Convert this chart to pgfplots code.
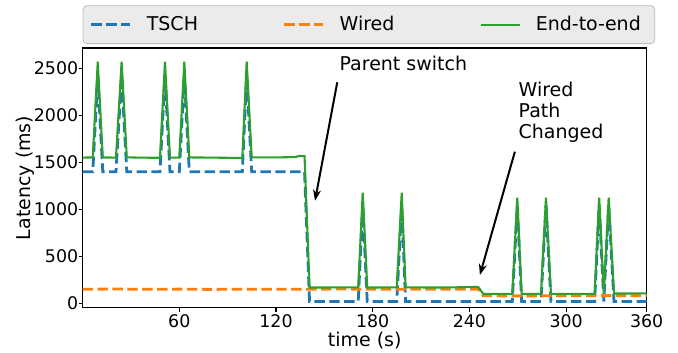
\documentclass[border=0pt]{standalone}
\usepackage{pgfplots}
\pgfplotsset{compat=1.18}
\usepackage{fontspec}
\setmainfont{DejaVu Sans}
\usetikzlibrary{arrows.meta}
\definecolor{tblue}{HTML}{1F77B4}
\definecolor{torange}{HTML}{FF7F0E}
\definecolor{tgreen}{HTML}{2CA02C}
\definecolor{legfill}{HTML}{EBEBEB}
\definecolor{legdraw}{HTML}{BDBDBD}
\newcommand{\lfont}{\fontsize{9.5}{11.4}\selectfont}
\begin{document}
\begin{tikzpicture}
\begin{axis}[
  name=ax,
  scale only axis,
  width=282pt, height=129.85pt,
  xmin=0, xmax=350, ymin=-47, ymax=2716,
  xtick={60,120,180,240,300,350},
  xticklabels={60,120,180,240,300,360},
  ytick={0,500,1000,1500,2000,2500},
  tick pos=left,
  tick align=outside,
  major tick length=2pt,
  axis line style={line width=0.56pt},
  every tick/.style={black, line width=0.56pt},
  /pgf/number format/assume math mode=true,
  ticklabel style={font=\fontsize{8.7}{10}\selectfont},
  yticklabel style={inner xsep=0pt, /pgf/number format/1000 sep={}},
  xticklabel style={inner ysep=1.1pt},
  scaled y ticks=false,
  xlabel={time (s)}, ylabel={Latency (ms)},
  label style={font=\lfont, inner sep=0pt},
  xlabel style={at={(axis description cs:0.5,-0.1263)}, anchor=center},
  ylabel style={at={(axis description cs:-0.102,0.5)}, anchor=center},
  legend columns=3,
  legend image code/.code={\draw[#1] (0pt,0pt) -- (19.5pt,0pt);},
  legend style={at={(0,1)}, anchor=south west, yshift=2pt,
    draw=legdraw, fill=legfill, rounded corners=2pt, font=\lfont,
    inner xsep=3.5pt, inner ysep=5.1pt, nodes={inner sep=0pt},
    /tikz/every odd column/.append style={column sep=7.5pt},
    /tikz/every even column/.append style={column sep=6pt}},
  clip=false,
]
\addplot[tblue, line width=1.4pt, dash pattern=on 5.2pt off 2.25pt] coordinates {
(0,1400) (6.3,1400) (9.4,2420) (12.5,1400) (20.7,1400) (24.2,2420) (27.4,1400)
(48.0,1400) (51.1,2420) (54.2,1400) (60.0,1400) (63.1,2420) (66.2,1400)
(99.1,1400) (101.8,2420) (104.9,1400) (137.7,1400) (140.8,20)
(171.0,20) (173.8,1025) (176.6,20) (194.9,20) (198.0,1025) (200.4,20)
(266.6,20) (269.7,1045) (272.4,20) (284.4,20) (287.5,1045) (290.6,20)
(317.7,20) (320.5,1045) (323.4,20) (326.4,1045) (329.7,20) (350,20)
};
\addlegendentry{\makebox[62pt][l]{TSCH}}
\addplot[torange, line width=1.4pt, dash pattern=on 5.2pt off 2.25pt] coordinates {
(0,150) (20,152) (40,149) (60,151) (80,148) (100,151) (120,149) (140,150)
(160,152) (180,150) (200,149) (220,151) (240,150) (245.5,150) (248.6,80)
(270,79) (300,80) (320,82) (350,82)
};
\addlegendentry{\makebox[64pt][l]{Wired}}
\addplot[tgreen, line width=1.05pt] coordinates {
(0,1550) (6.3,1552) (9.4,2570) (12.5,1552) (20.7,1550) (24.2,2570) (27.4,1553)
(35,1550) (48.0,1548) (51.1,2570) (54.2,1550) (60.0,1550) (63.1,2570) (66.2,1552)
(80,1550) (99.1,1546) (101.8,2570) (104.9,1552) (120,1552) (132,1556)
(134.5,1568) (137.7,1565) (140.8,168) (171.0,170) (173.8,1177) (176.6,168)
(194.9,170) (198.0,1177) (200.4,170) (220,168) (240,172) (244,176) (245.5,172)
(248.6,100) (266.6,100) (269.7,1124) (272.4,100) (284.4,100) (287.5,1124)
(290.6,100) (317.7,100) (320.5,1124) (323.4,100) (326.4,1124) (329.7,104) (350,106)
};
\addlegendentry{\makebox[56pt][l]{End-to-end}}
\node[anchor=base west, inner sep=0pt, font=\lfont] at (axis cs:159.2,2475) {Parent switch};
\draw[line width=1pt, -{Stealth[length=5.5pt,width=4pt]}] (axis cs:158.0,2351) -- (axis cs:144.2,1092);
\node[anchor=north west, inner sep=0pt, align=left, font=\fontsize{9.5}{10.65}\selectfont] at (axis cs:270.3,2360) {Wired\\Path\\Changed};
\draw[line width=1pt, -{Stealth[length=5.5pt,width=4pt]}] (axis cs:268.2,1613) -- (axis cs:246.5,301);
\end{axis}
\path (ax.south west) ++(-41.3pt,-22.15pt);
\path (ax.north east) ++(15.65pt,24pt);
\end{tikzpicture}
\end{document}
